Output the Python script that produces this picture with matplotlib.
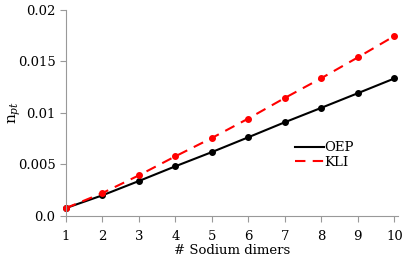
import numpy as np
import matplotlib
matplotlib.use("Agg")
import matplotlib.pyplot as plt
from matplotlib.lines import Line2D

plt.rcParams["font.family"] = "DejaVu Serif"
plt.rcParams["mathtext.fontset"] = "dejavuserif"

dimers = [1, 2, 3, 4, 5, 6, 7, 8, 9, 10]
oep = [0.00076, 0.0020, 0.00339, 0.00482, 0.0062, 0.00764, 0.0091, 0.0105, 0.01192, 0.01335]
kli = [0.00076, 0.00222, 0.00394, 0.00579, 0.00757, 0.00946, 0.01146, 0.01338, 0.0154, 0.01747]

xticks = [1, 2, 3, 4, 5, 6, 7, 8, 9, 10]
yticks = [0.0, 0.005, 0.01, 0.015, 0.02]
ylabels = ["0.0", "0.005", "0.01", "0.015", "0.02"]

fig = plt.figure(figsize=(4.15, 2.57), dpi=100)
ax = fig.add_axes([0.159, 0.16, 0.80, 0.801])

ax.plot(dimers, oep, "-o", color="black", lw=1.5, ms=4, clip_on=False)
ax.plot(dimers, kli, "--o", color="red", lw=1.5, ms=4, dashes=(5, 3.5), clip_on=False)

ax.set_xlim(1, 10.1)
ax.set_ylim(0, 0.02)
ax.set_xticks(xticks)
ax.set_yticks(yticks)
ax.set_yticklabels(ylabels)
ax.set_xlabel("# Sodium dimers", fontsize=9.5, labelpad=1)
ax.set_ylabel("n$_{pt}$", fontsize=11)
ax.yaxis.set_label_coords(-0.13, 0.5)

for s in ["top", "right"]:
    ax.spines[s].set_visible(False)
for s in ["left", "bottom"]:
    ax.spines[s].set_color("#999999")
ax.tick_params(colors="#999999", labelcolor="black", labelsize=9.5, length=4, direction="out")
ax.tick_params(axis="x", pad=6)

handles = [Line2D([], [], color="black", lw=1.5),
           Line2D([], [], color="red", lw=1.5, ls="--", dashes=(5, 3.5))]
ax.legend(handles, ["OEP", "KLI"], loc="center left", bbox_to_anchor=(0.69, 0.296),
          frameon=False, fontsize=9.5, handlelength=2.2, handletextpad=0.0,
          labelspacing=0.1, borderpad=0, borderaxespad=0)

fig.savefig("out.png", dpi=100)
